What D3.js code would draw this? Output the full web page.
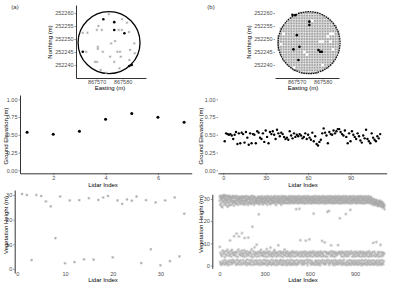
<!DOCTYPE html>
<html>
<head>
<meta charset="utf-8">
<script src="https://cdn.jsdelivr.net/npm/d3@7"></script>
<style>
  body { margin: 0; background: #fff; }
  svg { display: block; font-family: "Liberation Sans", Arial, sans-serif; }
</style>
</head>
<body>
<script>
// ---- plot footprint (both panels)
const plotCenter = [867574.8, 252248.6];
const plotRadius = 11.9;

// ---- (a) top: sampled points inside plot
const grayEastA = [867574.7, 867579.8, 867581.7, 867570.7, 867570.1, 867572.0, 867578.5, 867579.7, 867564.7, 867566.5, 867582.5, 867577.1, 867575.6, 867570.5, 867570.5, 867584.5, 867566.0, 867572.4, 867578.0, 867579.0, 867582.9, 867584.7, 867575.2, 867579.3, 867569.4, 867570.2, 867576.8, 867582.6, 867578.8, 867571.6, 867573.7];
const grayNorthA = [252259.6, 252257.6, 252256.3, 252255.0, 252253.5, 252253.5, 252253.5, 252253.5, 252252.4, 252252.4, 252252.7, 252249.2, 252248.3, 252247.0, 252246.2, 252248.3, 252245.1, 252245.1, 252245.1, 252245.1, 252245.8, 252244.5, 252243.2, 252243.2, 252241.2, 252241.2, 252241.2, 252241.9, 252238.7, 252238.1, 252237.0];
const blackEastA = [867572.6, 867576.8, 867576.8, 867580.7, 867564.7, 867583.5, 867582.6];
const blackNorthA = [252257.6, 252256.5, 252253.5, 252252.2, 252245.1, 252240.0, 252239.6];

// ---- (b) top: 1 m grid cells, empty cells, ground points
const gridEast = [867563, 867564, 867565, 867566, 867567, 867568, 867569, 867570, 867571, 867572, 867573, 867574, 867575, 867576, 867577, 867578, 867579, 867580, 867581, 867582, 867583, 867584, 867585, 867586];
const gridNorth = [252237, 252238, 252239, 252240, 252241, 252242, 252243, 252244, 252245, 252246, 252247, 252248, 252249, 252250, 252251, 252252, 252253, 252254, 252255, 252256, 252257, 252258, 252259, 252260];
const emptyEast = [867565, 867564, 867576, 867579, 867580, 867582, 867583, 867584, 867583, 867573, 867574, 867580, 867569, 867584, 867570];
const emptyNorth = [252252, 252248, 252257, 252249, 252249, 252251, 252252, 252252, 252249, 252245, 252244, 252240, 252239, 252246, 252260];
const blackEastB = [867568.4, 867569.5, 867574.9, 867574.9, 867570.1, 867568.8, 867571.1, 867578.4, 867579.0, 867579.7, 867570.7];
const blackNorthB = [252259.3, 252259.2, 252256.7, 252255.4, 252251.5, 252246.0, 252247.0, 252245.8, 252245.1, 252245.1, 252241.9];

// ---- ground elevation (m)
const groundA = [0.535, 0.507, 0.549, 0.72, 0.80, 0.746, 0.676];
const groundB = [
  0.41, 0.52, 0.51, 0.50, 0.51, 0.49, 0.44, 0.50, 0.54, 0.37,
  0.52, 0.38, 0.53, 0.51, 0.39, 0.54, 0.46, 0.36, 0.52, 0.38,
  0.51, 0.50, 0.38, 0.55, 0.53, 0.46, 0.44, 0.52, 0.40, 0.56,
  0.47, 0.38, 0.54, 0.51, 0.55, 0.50, 0.44, 0.57, 0.52, 0.48,
  0.53, 0.51, 0.47, 0.44, 0.46, 0.43, 0.55, 0.49, 0.45, 0.52,
  0.47, 0.50, 0.48, 0.51, 0.49, 0.45, 0.47, 0.52, 0.44, 0.50,
  0.46, 0.43, 0.53, 0.41, 0.48, 0.37, 0.35, 0.40, 0.43, 0.52,
  0.59, 0.53, 0.49, 0.38, 0.54, 0.51, 0.50, 0.56, 0.52, 0.55,
  0.58, 0.58, 0.54, 0.51, 0.49, 0.56, 0.47, 0.38, 0.52, 0.41,
  0.55, 0.50, 0.47, 0.44, 0.52, 0.48, 0.42, 0.39, 0.49, 0.45,
  0.57, 0.44, 0.41, 0.38, 0.52, 0.46, 0.43, 0.41, 0.48, 0.45,
  0.51
];

// ---- vegetation height (m)
const vegA = [30.4, 30.0, 3.6, 30.0, 29.6, 27.4, 25.4, 12.5, 29.4, 2.3, 27.8, 2.8, 27.9, 3.9, 28.7, 3.8, 28.0, 29.0, 29.6, 4.7, 27.8, 26.4, 28.2, 27.7, 29.4, 2.4, 27.9, 8.0, 27.0, 1.5, 27.8, 3.2, 29.0, 5.1, 22.4];
const vegB = [
  29.3,8.4,31.2,1.6,27.4,30.6,5.8,0.7,31.5,28.2,4.9,30.1,0.3,26.8,29.7,4.2,31.0,1.2,26.3,30.4,6.7,29.1,2.1,31.4,5.3,28.6,30.8,1.0,31.8,6.2,27.5,0.4,31.1,29.5,3.8,30.3,2.4,28.1,5.1,31.6,1.4,30.0,6.4,29.2,27.1,0.6,31.3,4.5,28.4,1.8,
  30.2,7.1,29.4,1.1,26.5,31.2,5.5,0.2,30.7,28.3,6.1,27.2,2.3,31.5,4.4,29.6,1.5,30.5,28.7,11.3,5.2,27.3,0.5,31.0,6.5,29.8,2.2,30.3,4.1,28.9,1.3,27.6,7.0,30.9,5.4,29.0,0.8,31.4,2.6,28.2,5.9,30.4,1.7,29.3,4.7,27.0,13.2,31.1,5.0,28.5,
  2.0,30.6,6.0,29.1,1.2,28.4,31.3,4.3,27.8,0.3,30.2,5.6,29.5,14.4,2.5,28.0,6.3,31.2,1.0,30.5,3.9,29.2,0.6,27.4,7.2,30.0,2.1,28.6,13.1,31.0,5.1,29.7,1.6,30.3,6.2,28.3,0.4,29.4,4.6,31.1,2.3,27.7,5.3,30.1,1.1,29.0,6.6,28.5,14.6,30.7,
  4.2,29.5,0.5,31.2,5.7,28.0,2.4,30.4,5.0,27.5,1.3,29.3,6.9,30.8,4.0,28.4,12.4,31.0,0.7,29.2,6.1,27.6,2.0,30.2,5.4,28.8,1.4,31.3,4.3,29.6,0.2,30.0,6.4,28.1,2.7,29.4,5.2,31.1,1.0,27.3,12.6,30.5,4.5,28.2,0.6,29.9,5.8,30.3,2.2,28.6,
  5.5,31.0,1.2,29.1,6.2,28.3,0.4,30.6,4.1,27.7,2.5,29.5,7.3,31.4,5.0,28.0,1.6,30.1,17.5,29.7,3.8,28.5,0.3,31.2,6.4,30.3,2.1,29.0,5.3,27.4,1.0,30.7,8.2,28.2,4.4,31.0,0.5,29.3,5.9,28.6,2.3,30.0,5.1,29.5,1.5,28.1,9.4,30.4,4.0,29.1,
  0.6,28.4,6.0,30.2,2.2,29.4,5.3,31.1,1.1,28.0,23.1,30.5,4.2,27.6,0.4,29.2,6.3,31.0,2.4,28.7,5.6,30.1,1.3,29.6,7.1,28.2,4.5,30.4,0.3,31.2,5.8,29.0,2.0,28.5,5.0,30.3,1.2,27.5,4.3,29.7,0.7,30.0,6.2,28.3,2.5,31.1,5.4,29.1,1.0,30.6,
  4.1,28.1,0.5,29.3,6.1,31.0,2.3,30.4,5.2,28.4,1.4,29.6,7.4,30.1,3.9,27.4,0.2,31.3,6.0,29.2,2.2,28.6,5.5,30.3,1.0,29.0,4.4,31.1,0.6,28.2,6.4,30.5,2.0,29.4,5.1,27.6,1.3,30.2,8.1,29.5,4.2,28.0,0.3,31.2,5.7,30.0,2.5,29.1,5.0,28.5,
  1.2,30.3,4.0,29.2,0.5,28.4,6.2,31.0,2.1,30.6,5.3,29.4,1.0,28.0,7.0,30.2,4.4,31.3,0.4,29.0,6.0,28.6,2.4,30.1,5.5,27.3,1.5,29.5,4.1,31.1,0.2,30.5,5.9,28.2,2.2,29.3,5.0,30.4,1.1,28.5,9.1,31.2,4.3,29.1,0.6,30.0,6.3,28.3,2.0,29.6,
  5.1,31.0,1.3,28.2,6.1,30.4,2.5,29.0,4.2,27.4,0.4,30.1,5.8,31.3,2.1,28.6,5.4,29.5,1.0,30.3,4.0,28.0,0.3,31.1,6.2,29.3,2.3,30.6,5.0,28.4,1.4,29.1,7.2,31.2,4.5,30.0,0.5,28.3,6.0,29.6,2.0,31.0,5.5,30.2,1.2,28.1,4.1,29.4,0.2,30.5,
  6.3,28.2,2.4,30.1,5.2,29.5,1.1,31.1,4.3,28.6,0.6,30.4,5.7,29.2,2.0,28.0,5.0,31.3,1.3,30.0,4.0,29.4,0.3,28.5,6.1,30.2,2.5,31.0,5.3,29.0,1.0,28.3,4.4,30.6,0.4,29.3,6.4,31.2,2.2,28.1,5.6,30.3,1.4,29.6,4.1,28.4,0.5,31.0,6.0,30.1,
  2.1,29.2,5.4,28.3,1.0,30.5,4.2,31.2,25.4,29.0,0.3,28.6,6.2,30.1,2.4,29.4,5.1,31.0,1.2,28.0,4.5,30.3,0.6,29.6,5.8,28.2,2.0,31.3,5.3,30.0,25.6,29.1,1.4,28.5,4.0,30.4,11.4,29.3,6.1,31.1,2.3,28.4,5.0,30.2,1.1,29.5,4.3,28.1,0.4,31.0,
  6.0,30.1,2.2,29.2,5.5,28.4,1.3,31.1,4.1,30.5,0.5,29.0,6.3,28.2,2.0,30.3,5.2,31.2,1.0,29.4,4.4,28.0,11.2,30.0,6.1,29.6,2.5,31.0,5.0,28.5,1.2,30.2,4.0,29.3,0.2,31.3,5.7,28.1,2.3,30.4,5.4,29.1,1.4,28.6,4.2,31.0,11.8,30.1,6.2,29.5,
  2.4,28.3,5.1,30.2,1.0,29.4,4.3,31.1,0.4,28.0,6.0,30.5,2.1,29.2,5.6,28.6,1.3,31.0,4.0,30.1,0.6,29.5,6.4,28.2,23.4,30.3,5.2,31.2,1.1,29.0,4.5,28.4,0.3,30.0,5.9,29.6,2.2,31.3,5.0,28.1,1.5,30.4,4.1,29.3,0.5,28.5,6.1,31.0,2.0,30.2,
  5.3,29.1,1.2,28.3,4.2,30.0,0.4,31.2,6.0,29.5,2.3,28.0,5.1,30.4,1.0,29.2,4.4,31.1,0.2,28.5,6.3,30.1,2.0,29.6,5.5,28.2,1.3,31.0,4.0,30.3,11.1,29.0,5.7,28.6,2.4,30.5,5.0,31.3,1.1,29.3,4.3,28.1,0.6,30.2,6.2,29.4,2.1,31.1,10.4,28.4,
  1.0,30.3,4.1,29.2,0.5,28.0,6.1,31.0,2.2,30.5,5.4,29.4,1.4,28.3,4.0,30.1,24.2,31.2,5.8,29.0,2.5,28.6,5.1,30.4,1.2,29.5,24.6,31.1,0.3,28.2,6.0,30.0,2.0,29.3,5.3,28.5,1.1,31.3,4.2,30.2,9.1,29.6,6.4,28.1,2.3,30.6,5.0,31.0,1.3,29.1,
  4.3,28.4,0.4,30.2,6.2,29.0,2.1,31.1,5.5,28.0,1.0,30.4,4.0,29.5,0.2,28.3,6.0,31.2,2.4,30.1,5.2,29.2,1.4,28.5,4.4,30.5,0.6,31.0,5.8,29.4,2.0,28.1,5.0,30.3,1.2,29.1,9.2,31.3,0.5,28.6,6.1,30.0,2.2,29.6,5.4,28.2,1.1,31.1,21.3,30.4,
  6.0,29.3,2.3,28.0,5.1,30.2,1.0,31.0,4.2,29.5,0.3,28.4,6.3,30.6,2.0,29.1,5.6,31.2,1.3,28.2,4.0,30.0,0.6,29.4,5.9,28.5,2.5,31.1,5.2,30.3,1.1,29.0,4.4,28.1,0.4,30.5,6.1,31.3,23.2,29.2,5.0,28.6,1.4,30.1,4.1,29.6,0.2,31.0,6.2,28.3,
  2.1,30.2,5.3,29.0,1.2,28.4,4.3,31.1,0.5,30.0,6.0,29.5,2.4,28.1,5.1,30.4,1.0,31.2,25.1,29.3,0.3,28.0,6.4,30.5,2.2,29.1,5.5,31.0,1.4,28.5,4.0,30.1,0.6,29.4,5.8,28.2,2.0,31.3,5.0,30.3,1.1,29.6,4.2,28.6,0.4,30.0,6.2,31.1,2.3,29.2,
  5.2,28.3,1.3,30.1,4.1,29.4,0.5,31.0,6.1,28.0,2.0,30.5,5.4,29.1,1.1,28.6,4.4,31.2,0.3,30.2,5.9,29.5,2.3,28.2,5.0,30.0,1.4,31.1,4.2,29.3,0.6,28.4,6.3,30.6,2.1,29.0,5.6,31.3,1.0,28.1,4.0,30.4,0.2,29.6,6.0,28.5,2.4,31.0,5.1,30.1,
  1.2,29.2,4.3,28.0,0.4,30.3,6.2,31.1,2.2,29.4,5.3,28.3,1.0,30.0,4.1,29.5,0.6,31.2,5.7,28.1,2.5,30.5,5.0,29.0,1.3,28.6,4.4,31.0,0.3,30.2,6.1,29.3,2.0,28.4,5.5,30.1,1.1,31.3,4.0,29.6,0.5,28.2,6.4,30.4,2.3,29.1,5.2,28.5,1.4,31.0,
  4.2,30.1,0.3,29.2,5.8,28.0,2.1,30.8,5.1,29.6,1.2,28.7,4.3,27.6,0.5,30.0,6.0,29.4,2.4,28.5,10.2,27.8,1.0,29.9,4.4,28.6,0.4,27.2,6.2,28.3,2.0,29.7,5.3,28.8,1.3,27.5,4.1,29.2,0.6,28.4,10.6,27.9,2.2,29.5,5.0,28.1,1.1,27.4,4.3,26.8,
  0.2,28.9,6.1,28.0,2.3,27.1,5.2,28.7,1.4,27.8,4.0,26.9,0.5,29.3,5.9,28.2,2.1,28.6,9.3,27.0,1.0,28.1,4.2,28.8,0.3,26.7,6.0,27.9,2.4,26.2,5.1,28.5,1.2,27.6,4.4,26.9,0.6,27.8,5.7,26.3,2.0,27.5,5.3,26.8,25.4
];

// tick values
const northTicks = [252240, 252245, 252250, 252255, 252260];
const eastTicks = [867570, 867580];
const groundTicks = [0, 0.25, 0.5, 0.75, 1];
const vegTicks = [0, 10, 20, 30];
const idxTicksA = [2, 4, 6];
const idxTicksB = [0, 30, 60, 90];
const vegIdxTicksA = [0, 10, 20, 30];
const vegIdxTicksB = [0, 300, 600, 900];

const W = 393, H = 289;
const svg = d3.select("body").append("svg").attr("width", W).attr("height", H);

const asterisk = r => {
  const d = r * 0.7071;
  return `M${-r},0H${r}M0,${-r}V${r}M${-d},${-d}L${d},${d}M${-d},${d}L${d},${-d}`;
};

function styleAxis(g, showDomain) {
  g.select(".domain").attr("stroke", showDomain ? "#000" : "none").attr("stroke-width", 0.8);
  g.selectAll(".tick line").attr("stroke", "#333").attr("stroke-width", 0.5);
  g.selectAll(".tick text").attr("fill", "#4d4d4d").style("font-size", "5.5px");
}

function addText(txt, x, y, opts = {}) {
  const t = svg.append("text")
    .attr("font-size", opts.size || 6)
    .attr("fill", opts.fill || "#000")
    .attr("text-anchor", opts.anchor || "middle")
    .text(txt);
  if (opts.rotate) {
    t.attr("transform", `translate(${x},${y}) rotate(-90)`).attr("dy", "0.35em");
  } else {
    t.attr("x", x).attr("y", y);
  }
}

// ===================== top row: plot maps =====================
const yTop = d3.scaleLinear().domain([252235, 252263.1]).range([78, 5]);
const xTopA = d3.scaleLinear().domain([867562.1, 867589]).range([76, 146]);
const xTopB = d3.scaleLinear().domain([867561.7, 867586.3]).range([275, 339]);

function mapAxes(x, x0, showLeft) {
  const gx = svg.append("g").attr("transform", `translate(0,78)`)
    .call(d3.axisBottom(x).tickValues(eastTicks).tickFormat(d3.format("d")).tickSize(1.5).tickPadding(0.5).tickSizeOuter(0));
  styleAxis(gx, true);
  const gy = svg.append("g").attr("transform", `translate(${x0},0)`)
    .call(d3.axisLeft(yTop).tickValues(northTicks).tickFormat(d3.format("d")).tickSize(1.5).tickPadding(1).tickSizeOuter(0));
  styleAxis(gy, showLeft);
}

// panel (a)
mapAxes(xTopA, 76, true);
const pxPerM = xTopA(1) - xTopA(0);
svg.append("circle")
  .attr("cx", xTopA(plotCenter[0])).attr("cy", yTop(plotCenter[1]))
  .attr("r", plotRadius * pxPerM)
  .attr("fill", "none").attr("stroke", "#000").attr("stroke-width", 1.3);
svg.append("g").selectAll("path")
  .data(d3.zip(grayEastA, grayNorthA))
  .join("path")
  .attr("transform", d => `translate(${xTopA(d[0])},${yTop(d[1])})`)
  .attr("d", asterisk(1.3))
  .attr("stroke", "#a6a6a6").attr("stroke-width", 0.6).attr("fill", "none");
svg.append("g").selectAll("circle")
  .data(d3.zip(blackEastA, blackNorthA))
  .join("circle")
  .attr("cx", d => xTopA(d[0])).attr("cy", d => yTop(d[1]))
  .attr("r", 1.3).attr("fill", "#000");

// panel (b)
mapAxes(xTopB, 275, false);
const emptyKeys = new Set(d3.zip(emptyEast, emptyNorth).map(d => d.join(",")));
const gridCells = d3.cross(gridEast, gridNorth)
  .filter(d => Math.hypot(d[0] - plotCenter[0], d[1] - plotCenter[1]) <= plotRadius + 0.2)
  .filter(d => !emptyKeys.has(d.join(",")));
svg.append("g").selectAll("path")
  .data(gridCells)
  .join("path")
  .attr("transform", d => `translate(${xTopB(d[0])},${yTop(d[1])})`)
  .attr("d", asterisk(1.35))
  .attr("stroke", "#9a9a9a").attr("stroke-width", 0.6).attr("fill", "none");
svg.append("circle")
  .attr("cx", xTopB(plotCenter[0])).attr("cy", yTop(plotCenter[1]))
  .attr("r", plotRadius * pxPerM)
  .attr("fill", "none").attr("stroke", "#111").attr("stroke-width", 1.3)
  .attr("stroke-dasharray", "1.6,0.8");
svg.append("g").selectAll("circle")
  .data(d3.zip(blackEastB, blackNorthB))
  .join("circle")
  .attr("cx", d => xTopB(d[0])).attr("cy", d => yTop(d[1]))
  .attr("r", 1.3).attr("fill", "#000");

addText("(a)", 15, 8.5, { size: 6, fill: "#333" });
addText("(b)", 211, 8.5, { size: 6, fill: "#333" });
addText("Northing (m)", 50, 42, { rotate: true });
addText("Northing (m)", 248.5, 42, { rotate: true });
addText("Easting (m)", 110, 90);
addText("Easting (m)", 303, 90);

// ===================== middle row: ground elevation =====================
const yMid = d3.scaleLinear().domain([-0.042, 1.06]).range([173.3, 95]);
const xMidA = d3.scaleLinear().domain([0.73, 7.29]).range([20, 191.7]);
const xMidB = d3.scaleLinear().domain([-3.75, 115.6]).range([218, 386.7]);

function midAxes(x, ticks, x0, showLeft) {
  const gx = svg.append("g").attr("transform", "translate(0,173.3)")
    .call(d3.axisBottom(x).tickValues(ticks).tickFormat(d3.format("d")).tickSize(2).tickPadding(1).tickSizeOuter(0));
  styleAxis(gx, true);
  const gy = svg.append("g").attr("transform", `translate(${x0},0)`)
    .call(d3.axisLeft(yMid).tickValues(groundTicks).tickFormat(d3.format(".2f")).tickSize(1.5).tickPadding(1).tickSizeOuter(0));
  styleAxis(gy, showLeft);
}
midAxes(xMidA, idxTicksA, 20, true);
midAxes(xMidB, idxTicksB, 218, false);

svg.append("g").selectAll("circle")
  .data(groundA)
  .join("circle")
  .attr("cx", (d, i) => xMidA(i + 1)).attr("cy", d => yMid(d))
  .attr("r", 1.5).attr("fill", "#000");
svg.append("g").selectAll("circle")
  .data(groundB)
  .join("circle")
  .attr("cx", (d, i) => xMidB(i + 1)).attr("cy", d => yMid(d))
  .attr("r", 1.2).attr("fill", "#000");

addText("Ground Elevation (m)", 5.5, 136, { rotate: true });
addText("Ground Elevation (m)", 200.5, 136, { rotate: true });
addText("Lidar Index", 103, 186.5);
addText("Lidar Index", 303, 186.5);

// ===================== bottom row: vegetation height =====================
const yBotA = d3.scaleLinear().domain([-1.62, 32.03]).range([273, 190]);
const yBotB = d3.scaleLinear().domain([-1.26, 32.12]).range([268.3, 194.3]);
const xBotA = d3.scaleLinear().domain([-0.545, 35.79]).range([14.7, 188]);
const xBotB = d3.scaleLinear().domain([-47.8, 1105.5]).range([212.3, 386]);

function botAxes(x, y, ticks, x0) {
  const gx = svg.append("g").attr("transform", "translate(0,270)")
    .call(d3.axisBottom(x).tickValues(ticks).tickSize(0).tickPadding(2).tickSizeOuter(0));
  styleAxis(gx, false);
  const gy = svg.append("g").attr("transform", `translate(${x0},0)`)
    .call(d3.axisLeft(y).tickValues(vegTicks).tickSize(1.5).tickPadding(1).tickSizeOuter(0));
  styleAxis(gy, true);
}
botAxes(xBotA, yBotA, vegIdxTicksA, 14.7);
botAxes(xBotB, yBotB, vegIdxTicksB, 212.3);

svg.append("g").selectAll("path")
  .data(vegA)
  .join("path")
  .attr("transform", (d, i) => `translate(${xBotA(i + 1)},${yBotA(d)})`)
  .attr("d", asterisk(1.4))
  .attr("stroke", "#a3a3a3").attr("stroke-width", 0.6).attr("fill", "none");
svg.append("g").selectAll("path")
  .data(vegB)
  .join("path")
  .attr("transform", (d, i) => `translate(${xBotB(i + 1)},${yBotB(d)})`)
  .attr("d", asterisk(1.7))
  .attr("stroke", "#a8a8a8").attr("stroke-width", 0.45).attr("fill", "none");

addText("Vegetation Height (m)", 5.5, 225, { rotate: true });
addText("Vegetation Height (m)", 200.5, 224, { rotate: true });
addText("Lidar Index", 103, 282);
addText("Lidar Index", 303, 281.7);
</script>
</body>
</html>
